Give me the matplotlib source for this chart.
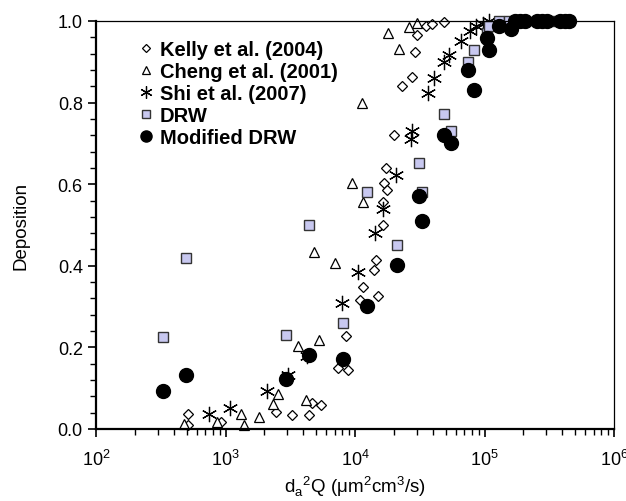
import numpy as np
import matplotlib
matplotlib.use('Agg')
import matplotlib.pyplot as plt
from matplotlib.ticker import MultipleLocator, LogLocator, NullFormatter

plt.rcParams['font.family'] = ['Liberation Sans', 'DejaVu Sans']
plt.rcParams['mathtext.fontset'] = 'custom'
plt.rcParams['mathtext.rm'] = 'Liberation Sans'

# Kelly et al. (2004)
kelly_x = [511, 511, 922, 2443, 3243, 4440, 4630, 5430, 7430, 8870, 8530, 10940,
           11540, 15140, 14450, 14100, 16560, 16560, 16750, 17740, 17340, 20000,
           22900, 27350, 29050, 30300, 35300, 39100, 49000]
kelly_y = [0.037, 0.011, 0.018, 0.042, 0.034, 0.034, 0.063, 0.059, 0.149, 0.145, 0.227, 0.317,
           0.349, 0.327, 0.414, 0.39, 0.50, 0.556, 0.602, 0.586, 0.639, 0.72,
           0.84, 0.862, 0.925, 0.966, 0.987, 0.993, 0.997]
# Cheng et al. (2001)
cheng_x = [481, 855, 1318, 1396, 1815, 2340, 2530, 3660, 4190, 5300, 4820, 7020,
           9440, 11480, 11270, 18070, 21980, 26240, 30270]
cheng_y = [0.012, 0.018, 0.037, 0.01, 0.03, 0.061, 0.086, 0.204, 0.071, 0.218, 0.435, 0.406,
           0.603, 0.557, 0.8, 0.971, 0.931, 0.985, 0.995]
# Shi et al. (2007)
shi_x = [746, 1084, 2104, 3055, 4237, 7980, 10610, 14260, 16370, 20600, 26900, 27370,
         36800, 40960, 49000, 53500, 65800, 77300, 85900, 96800, 109000]
shi_y = [0.037, 0.051, 0.092, 0.133, 0.18, 0.308, 0.386, 0.48, 0.538, 0.623, 0.711, 0.731,
         0.824, 0.86, 0.9, 0.917, 0.952, 0.975, 0.987, 0.993, 1.0]
# DRW
drw_x = [327, 496, 2930, 4440, 8130, 12300, 20990, 31000, 33100, 48600, 54800, 74100,
         83400, 105200, 109000, 130000, 155000, 188000, 260000, 330000, 450000]
drw_y = [0.225, 0.42, 0.231, 0.5, 0.26, 0.582, 0.451, 0.652, 0.582, 0.772, 0.731, 0.9,
         0.929, 0.97, 0.988, 1.0, 1.0, 1.0, 1.0, 1.0, 1.0]
# Modified DRW
mod_x = [327, 496, 2930, 4420, 8130, 12300, 20990, 31000, 33100, 48600, 54800, 74100,
         83400, 105200, 109000, 130000, 159000, 172000, 188000, 205000, 253000, 276000,
         302000, 383000, 417000, 452000]
mod_y = [0.092, 0.133, 0.122, 0.182, 0.171, 0.302, 0.402, 0.57, 0.511, 0.72, 0.70, 0.88,
         0.832, 0.958, 0.929, 0.988, 0.98, 1.0, 1.0, 1.0, 1.0, 1.0,
         1.0, 1.0, 1.0, 1.0]

fig = plt.figure(figsize=(6.26, 5.02), dpi=100)
ax = fig.add_axes([96/626, 1-430/502, 518/626, 408/502])

ax.plot(kelly_x, kelly_y, 'D', ms=5.5, mfc='white', mec='black', mew=0.9,
        label='Kelly et al. (2004)', clip_on=False)
ax.plot(cheng_x, cheng_y, '^', ms=7, mfc='white', mec='black', mew=0.9,
        label='Cheng et al. (2001)', clip_on=False)
ax.plot(shi_x, shi_y, marker=(6, 2, 0), ls='none', ms=11, mec='black', mew=0.9,
        label='Shi et al. (2007)', clip_on=False)
ax.plot(drw_x, drw_y, 's', ms=7, mfc='#c8c8f0', mec='#333333', mew=1.0,
        label='DRW', clip_on=False)
ax.plot(mod_x, mod_y, 'o', ms=10, mfc='black', mec='black',
        label='Modified DRW', clip_on=False)

ax.set_xscale('log')
ax.set_xlim(1e2, 1e6)
ax.set_ylim(0, 1.0)
ax.yaxis.set_major_locator(MultipleLocator(0.2))
ax.yaxis.set_minor_locator(MultipleLocator(0.04))
ax.yaxis.set_major_formatter(plt.FormatStrFormatter('%.1f'))
ax.xaxis.set_minor_locator(LogLocator(base=10, subs=np.arange(2, 10)))
ax.xaxis.set_minor_formatter(NullFormatter())

ax.tick_params(which='major', direction='out', length=6, width=1.2, labelsize=13)
ax.tick_params(which='minor', direction='out', length=4, width=1.0)
ax.tick_params(axis='x', which='major', pad=8)
ax.tick_params(top=False, right=False, which='both')
for s in ['left', 'bottom']:
    ax.spines[s].set_linewidth(1.6)
for s in ['top', 'right']:
    ax.spines[s].set_linewidth(0.9)

ax.set_ylabel('Deposition', fontsize=13.5, labelpad=20)
ax.set_xlabel(r'd$_\mathregular{a}$$^\mathregular{2}$Q (μm$^\mathregular{2}$cm$^\mathregular{3}$/s)',
              fontsize=13.5, labelpad=3)

ax.legend(loc='upper left', bbox_to_anchor=(0.046, 0.997), frameon=False, markerscale=0.8,
          handlelength=0.8, handletextpad=0.3, labelspacing=0.15,
          prop={'weight': 'bold', 'size': 14.5})

fig.savefig('out.png', dpi=100)
